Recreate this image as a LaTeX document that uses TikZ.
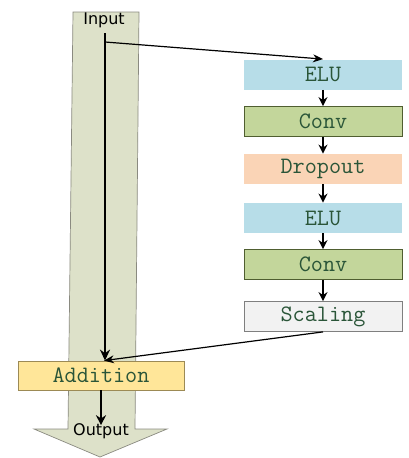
\documentclass[tikz,border=0pt]{standalone}
\usepackage{fontspec}
\setmainfont{DejaVu Sans}
\usetikzlibrary{arrows.meta}
\definecolor{shaft}{HTML}{DDE1C9}
\definecolor{shaftedge}{HTML}{8A8A80}
\definecolor{elufill}{HTML}{B7DDE8}
\definecolor{convfill}{HTML}{C3D69B}
\definecolor{convedge}{HTML}{4F5E30}
\definecolor{dropfill}{HTML}{FAD4B6}
\definecolor{scalefill}{HTML}{F2F2F2}
\definecolor{scaleedge}{HTML}{7F7F7F}
\definecolor{addfill}{HTML}{FFE699}
\definecolor{addedge}{HTML}{9C8A55}
\definecolor{labeltext}{HTML}{2A5538}
\tikzset{
  layer/.style={minimum width=158pt, minimum height=30pt, inner sep=0pt,
    font=\fontsize{23.5}{23.5}\ttfamily, text=labeltext, line width=0.8pt},
  flow/.style={-{Stealth[length=9pt,width=9pt]}, line width=1.7pt},
  link/.style={-{Stealth[length=10pt,width=8pt]}, line width=1.2pt},
  tag/.style={font=\fontsize{16}{16}\selectfont, inner sep=0pt}
}
\begin{document}
\begin{tikzpicture}[x=1pt,y=-1pt]
\useasboundingbox (0,0) rectangle (409,458);
% broad arrow carrying the identity path
\fill[shaft, draw=shaftedge, line width=0.7pt]
  (73,12) -- (139,12) -- (135,429) -- (167,429) -- (100,457) -- (34,429) -- (68,429) -- cycle;
\node[tag] (input) at (104,20) {Input};
\node[tag] (output) at (101,431) {Output};
\coordinate (src) at (105,33);
\coordinate (split) at (105,42);
% residual branch
\node[layer, fill=elufill] (elu1) at (323,74.5) {ELU};
\node[layer, fill=convfill, draw=convedge] (conv1) at (323,121.5) {Conv};
\node[layer, fill=dropfill] (drop) at (323,169) {Dropout};
\node[layer, fill=elufill] (elu2) at (323,218) {ELU};
\node[layer, fill=convfill, draw=convedge] (conv2) at (323,264.5) {Conv};
\node[layer, fill=scalefill, draw=scaleedge] (scale) at (323,316.5) {Scaling};
\node[layer, minimum width=166pt, minimum height=29pt, fill=addfill, draw=addedge] (add) at (101,375.5) {Addition};
\draw[flow] (elu1) -- (conv1);
\draw[flow] (conv1) -- (drop);
\draw[flow] (drop) -- (elu2);
\draw[flow] (elu2) -- (conv2);
\draw[flow] (conv2) -- (scale);
% skip connection and merges
\draw[-{Stealth[length=11pt,width=10pt]}, line width=2.8pt] (src) -- (src |- add.north);
\draw[link] (split) -- (elu1.north);
\draw[link] (scale.south) -- ([xshift=3pt]add.north);
\draw[-{Stealth[length=10pt,width=10pt]}, line width=2.2pt] (add.south) -- ([yshift=-2pt]output.north);
\end{tikzpicture}
\end{document}
